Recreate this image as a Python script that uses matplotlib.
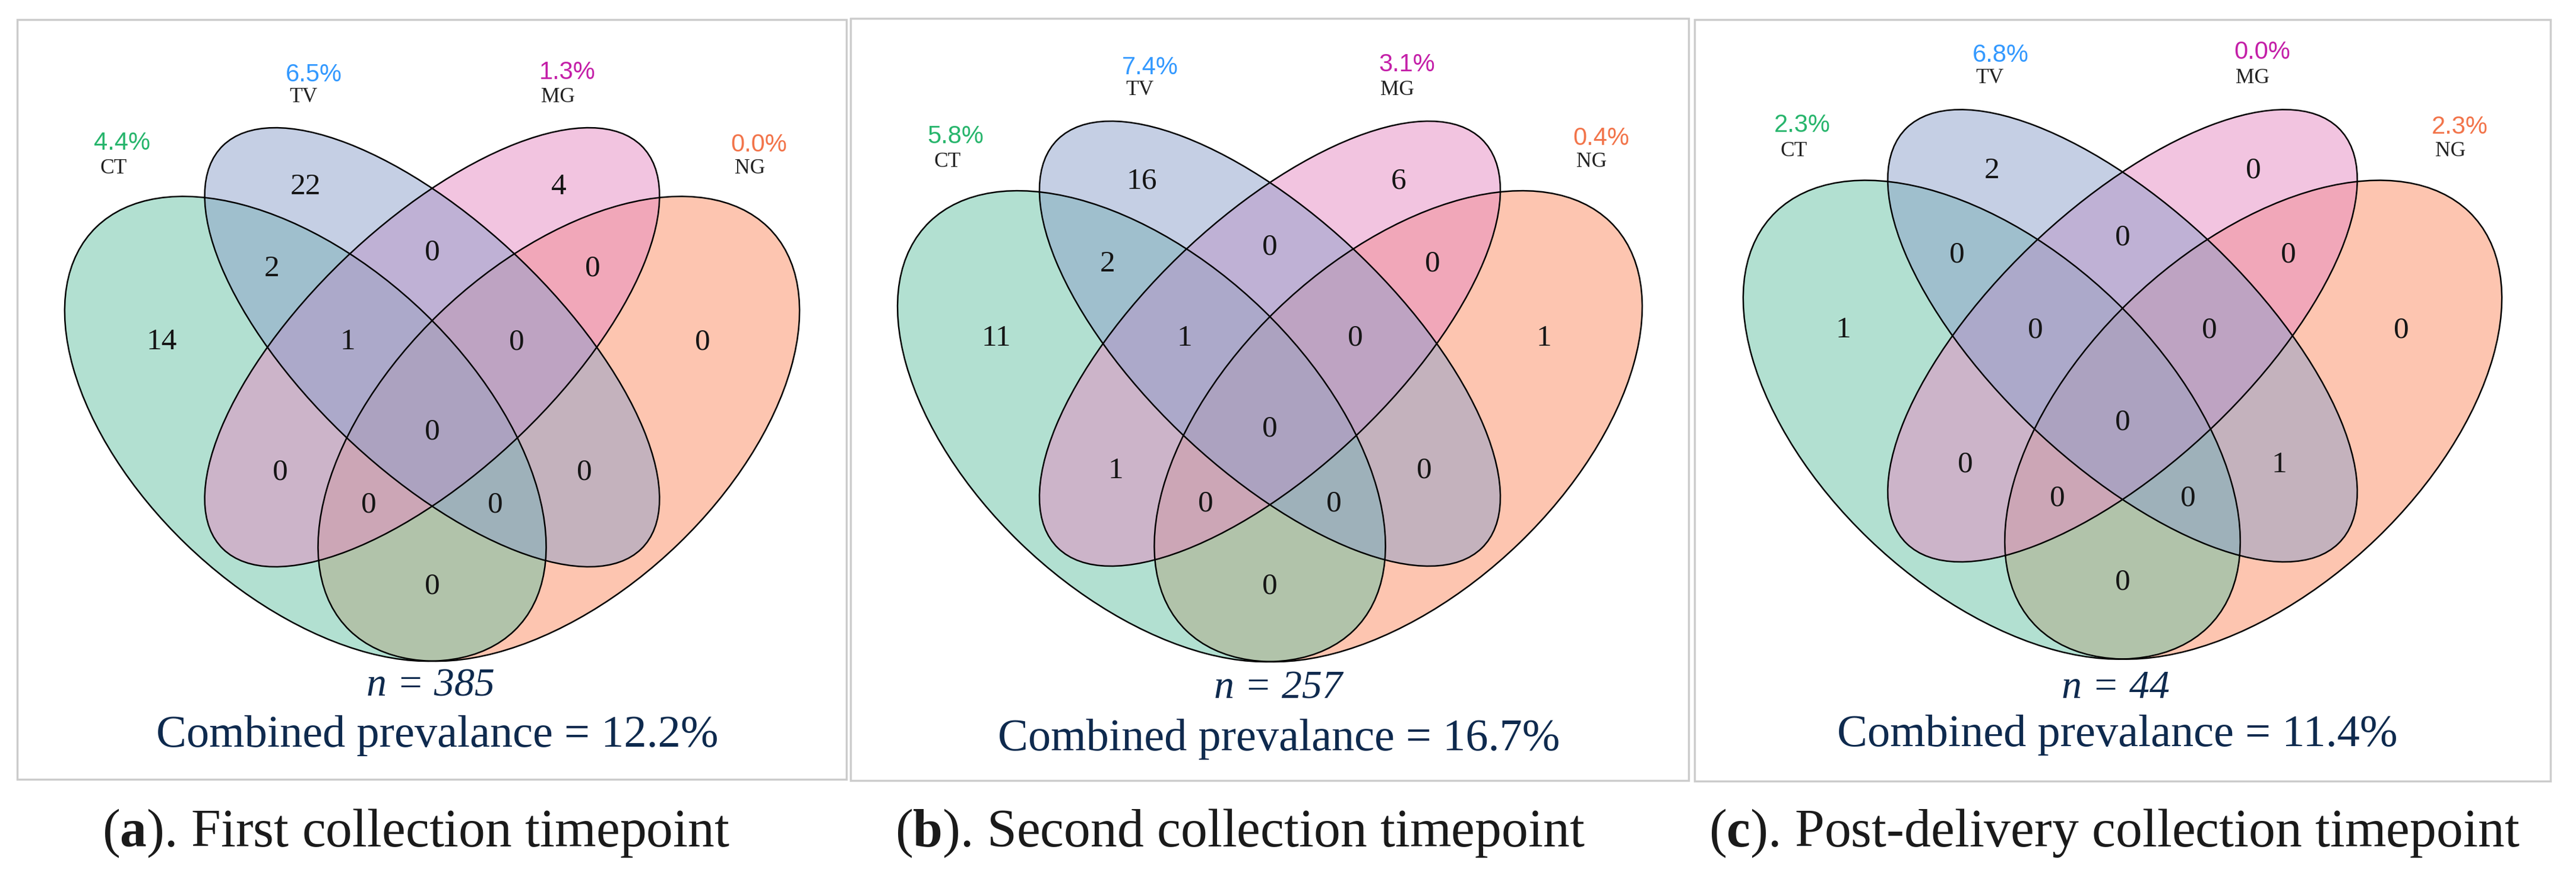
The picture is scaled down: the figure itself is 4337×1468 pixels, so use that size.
import matplotlib
matplotlib.use('Agg')
import matplotlib.pyplot as plt
from matplotlib.patches import Ellipse, Rectangle
from matplotlib import font_manager as fm

# ---------------- data ----------------
categories = ['CT', 'TV', 'MG', 'NG']
region_names = ['TV', 'TV&MG', 'MG', 'CT&TV', 'CT&TV&MG', 'CT&TV&MG&NG',
                'TV&MG&NG', 'MG&NG', 'CT', 'CT&MG', 'CT&MG&NG', 'CT&NG',
                'CT&TV&NG', 'TV&NG', 'NG']
counts_a = [22, 0, 4, 2, 1, 0, 0, 0, 14, 0, 0, 0, 0, 0, 0]
counts_b = [16, 0, 6, 2, 1, 0, 0, 0, 11, 1, 0, 0, 0, 0, 1]
counts_c = [2, 0, 0, 0, 0, 0, 0, 0, 1, 0, 0, 0, 0, 1, 0]
prev_a = [4.4, 6.5, 1.3, 0.0]
prev_b = [5.8, 7.4, 3.1, 0.4]
prev_c = [2.3, 6.8, 0.0, 2.3]
sample_n = [385, 257, 44]
combined_prev = [12.2, 16.7, 11.4]
panel_letters = ['a', 'b', 'c']
panel_titles = ['First collection timepoint', 'Second collection timepoint',
                'Post-delivery collection timepoint']

# ---------------- layout / style ----------------
W, H, DPI = 4337, 1468, 100
PT = DPI / 72.0

names = {f.name for f in fm.fontManager.ttflist}
SERIF = 'Liberation Serif' if 'Liberation Serif' in names else 'DejaVu Serif'
if 'Liberation Sans Narrow' in names:
    PCT_FAMILY, PCT_SIZE = 'Liberation Sans Narrow', 33
else:
    PCT_FAMILY, PCT_SIZE = 'Liberation Sans', 30

plt.rcParams['mathtext.fontset'] = 'custom'
plt.rcParams['mathtext.rm'] = SERIF
plt.rcParams['mathtext.bf'] = SERIF + ':bold'
plt.rcParams['mathtext.it'] = SERIF + ':italic'

# quad-venn geometry in unit coordinates: (x, y, semi-major, semi-minor, angle)
ellipse_geom = {
    'CT': (0.35, 0.47, 0.35, 0.20, -45),
    'TV': (0.50, 0.57, 0.35, 0.15, -45),
    'MG': (0.50, 0.57, 0.35, 0.15, 45),
    'NG': (0.65, 0.47, 0.35, 0.20, 45),
}
region_pos = [(0.35, 0.77), (0.50, 0.69), (0.65, 0.77), (0.31, 0.67),
              (0.40, 0.58), (0.50, 0.47), (0.60, 0.58), (0.69, 0.67),
              (0.18, 0.58), (0.32, 0.42), (0.425, 0.38), (0.50, 0.28),
              (0.575, 0.38), (0.68, 0.42), (0.82, 0.58)]
name_pos = {'CT': (0.123, 0.792), 'TV': (0.348, 0.879),
            'MG': (0.649, 0.879), 'NG': (0.876, 0.792)}
pct_pos = {'CT': (0.133, 0.823), 'TV': (0.360, 0.907),
           'MG': (0.660, 0.910), 'NG': (0.887, 0.821)}

fill_colors = {'CT': '#66C2A5', 'TV': '#8DA0CB', 'MG': '#E78AC3', 'NG': '#FC8D62'}
pct_colors = {'CT': '#27b56c', 'TV': '#3399ff', 'MG': '#c41fa8', 'NG': '#f2744a'}
draw_order = ['NG', 'CT', 'MG', 'TV']
NAVY = '#0e2a4e'

panels = [
    dict(cx=727.5, kx=1422, cy=584.6, ky=1372.5, box=(29, 33, 1425, 1312),
         n_xy=(725, 1172), comb_xy=(736, 1257), cap_xy=(700, 1425)),
    dict(cx=2138, kx=1441, cy=578.5, ky=1391, box=(1432, 31, 2843, 1314),
         n_xy=(2152, 1175), comb_xy=(2153, 1263), cap_xy=(2088, 1425)),
    dict(cx=3573.5, kx=1468, cy=565.2, ky=1414, box=(2853, 33, 4294, 1315),
         n_xy=(3562, 1175), comb_xy=(3565, 1256), cap_xy=(3560, 1425)),
]
all_counts = [counts_a, counts_b, counts_c]
all_prev = [prev_a, prev_b, prev_c]

fig = plt.figure(figsize=(W / DPI, H / DPI), dpi=DPI)
fig.patch.set_facecolor('white')

ov = fig.add_axes([0, 0, 1, 1])
ov.set_xlim(0, W)
ov.set_ylim(H, 0)
ov.axis('off')
ov.set_zorder(10)

REG_SIZE = 37
NAME_SIZE = 25.5

for i, p in enumerate(panels):
    def to_px(u, v, p=p):
        return p['cx'] + (u - 0.5) * p['kx'], p['cy'] - (v - 0.57) * p['ky']

    # panel frame
    x0, y0, x1, y1 = p['box']
    ov.add_patch(Rectangle((x0, y0), x1 - x0, y1 - y0, fill=False,
                           edgecolor='#cccccc', lw=2.5))

    # venn axes in unit coordinates
    left = (p['cx'] - 0.5 * p['kx']) / W
    bottom_img = p['cy'] + 0.57 * p['ky']
    ax = fig.add_axes([left, (H - bottom_img) / H, p['kx'] / W, p['ky'] / H])
    ax.set_xlim(0, 1)
    ax.set_ylim(0, 1)
    ax.axis('off')
    for cat in draw_order:
        x, y, a, b, ang = ellipse_geom[cat]
        ax.add_patch(Ellipse((x, y), 2 * a, 2 * b, angle=ang,
                             facecolor=fill_colors[cat], alpha=0.5,
                             edgecolor='none', clip_on=False))
    for cat in categories:
        x, y, a, b, ang = ellipse_geom[cat]
        ax.add_patch(Ellipse((x, y), 2 * a, 2 * b, angle=ang, fill=False,
                             edgecolor='black', lw=1.8, clip_on=False))

    # region counts
    em = REG_SIZE * PT
    for (u, v), cnt in zip(region_pos, all_counts[i]):
        xp, yp = to_px(u, v)
        ov.text(xp, yp + 0.338 * em, str(cnt), ha='center', va='baseline',
                fontsize=REG_SIZE, family=SERIF, color='#151515')

    # category names and prevalences
    for cat, pv in zip(categories, all_prev[i]):
        xp, yp = to_px(*name_pos[cat])
        ov.text(xp, yp + 0.331 * NAME_SIZE * PT, cat, ha='center',
                va='baseline', fontsize=NAME_SIZE, family=SERIF,
                color='#222222')
        xp, yp = to_px(*pct_pos[cat])
        ov.text(xp, yp + 0.358 * PCT_SIZE * PT, f'{pv:.1f}%', ha='center',
                va='baseline', fontsize=PCT_SIZE, family=PCT_FAMILY,
                color=pct_colors[cat])

    # n and combined prevalence
    ov.text(p['n_xy'][0], p['n_xy'][1], f'n = {sample_n[i]}', ha='center',
            va='baseline', fontsize=49, family=SERIF, style='italic',
            color=NAVY)
    ov.text(p['comb_xy'][0], p['comb_xy'][1],
            f'Combined prevalance = {combined_prev[i]:.1f}%', ha='center',
            va='baseline', fontsize=55, family=SERIF, color=NAVY)

    # caption
    cap = '(' + r'$\mathbf{' + panel_letters[i] + r'}$' + '). ' + panel_titles[i]
    ov.text(p['cap_xy'][0], p['cap_xy'][1], cap, ha='center', va='baseline',
            fontsize=64.5, family=SERIF, color='#1a1a1a')

fig.savefig('out.png', dpi=DPI, facecolor='white')
